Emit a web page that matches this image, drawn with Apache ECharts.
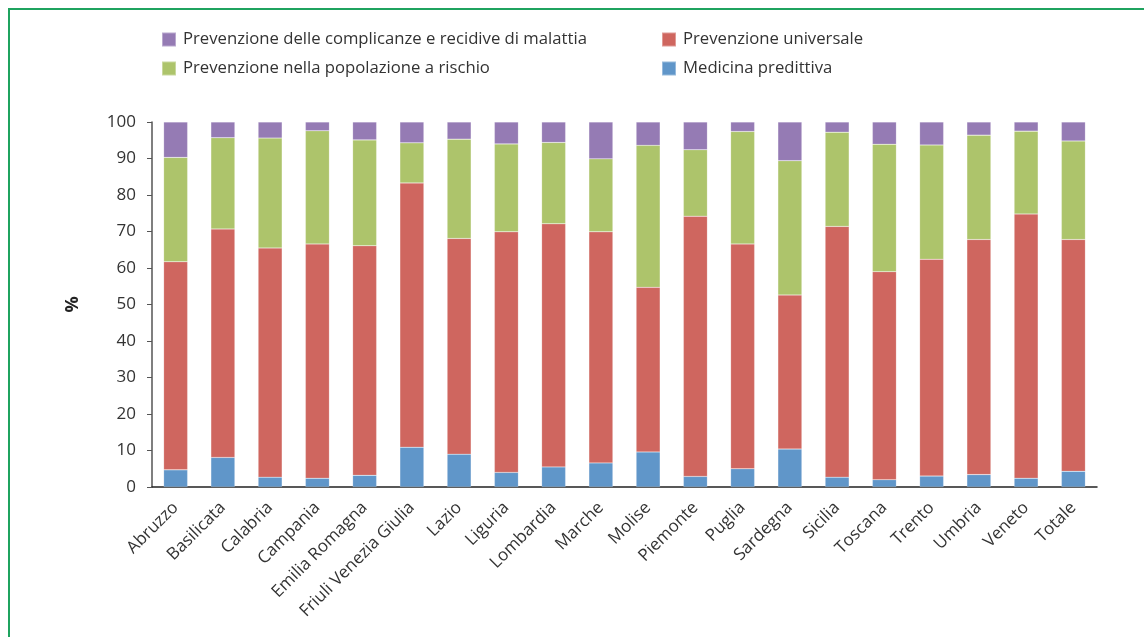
<!DOCTYPE html>
<html>
<head>
<meta charset="utf-8">
<script src="https://cdn.jsdelivr.net/npm/echarts@6/dist/echarts.min.js"></script>
<style>html,body{margin:0;padding:0;background:#fff}#c{width:1144px;height:637px}</style>
</head>
<body>
<div id="c"></div>
<script>
const categories = ['Abruzzo','Basilicata','Calabria','Campania','Emilia Romagna','Friuli Venezia Giulia','Lazio','Liguria','Lombardia','Marche','Molise','Piemonte','Puglia','Sardegna','Sicilia','Toscana','Trento','Umbria','Veneto','Totale'];
const medicinaPredittiva = [4.7,8.1,2.7,2.4,3.2,10.9,9.0,4.0,5.5,6.6,9.6,2.9,5.0,10.4,2.7,2.0,3.0,3.4,2.4,4.3];
const prevenzioneUniversale = [57.0,62.6,62.8,64.2,62.9,72.4,59.1,65.9,66.6,63.3,45.1,71.3,61.6,42.2,68.7,57.0,59.4,64.4,72.4,63.5];
const prevenzioneRischio = [28.6,25.0,30.1,31.0,29.0,11.0,27.2,24.1,22.3,20.0,38.9,18.2,30.8,36.8,25.8,34.9,31.3,28.6,22.7,27.0];
const prevenzioneComplicanze = [9.7,4.3,4.4,2.4,4.9,5.7,4.7,6.0,5.6,10.1,6.4,7.6,2.6,10.6,2.8,6.1,6.3,3.6,2.5,5.2];
const yTicks = [0,10,20,30,40,50,60,70,80,90,100];

const names = {
  comp: 'Prevenzione delle complicanze e recidive di malattia',
  univ: 'Prevenzione universale',
  risc: 'Prevenzione nella popolazione a rischio',
  med: 'Medicina predittiva'
};
const colors = {comp:'#957bb4', univ:'#cf665f', risc:'#adc46b', med:'#6096c9'};
const font = '"Open Sans", "Noto Sans", sans-serif';

const chart = echarts.init(document.getElementById('c'));
function bar(key, data) {
  return {
    name: names[key], type: 'bar', stack: 'tot', data: data, barWidth: 24,
    itemStyle: {color: colors[key], borderColor: 'rgba(255,255,255,0.35)', borderWidth: 0.5}
  };
}
const legendText = {fontFamily: font, fontSize: 16.7, color: '#333', padding: [0, 0, 0, 2]};
chart.setOption({
  animation: false,
  backgroundColor: '#fff',
  textStyle: {fontFamily: font},
  graphic: [{
    type: 'polyline',
    shape: {points: [[9, 637], [9, 9], [1144, 9]]},
    style: {stroke: '#1fa35f', lineWidth: 2, fill: null}
  }],
  legend: [{
    left: 156, top: 26, orient: 'vertical', itemGap: 12,
    itemWidth: 14, itemHeight: 14, icon: 'rect',
    data: [names.comp, names.risc], textStyle: legendText
  }, {
    left: 656, top: 26, orient: 'vertical', itemGap: 12,
    itemWidth: 14, itemHeight: 14, icon: 'rect',
    data: [names.univ, names.med], textStyle: legendText
  }],
  grid: {left: 152, right: 47, top: 122, bottom: 150},
  xAxis: {
    type: 'category', data: categories,
    axisLine: {lineStyle: {color: '#222', width: 1.5}},
    axisTick: {show: false},
    axisLabel: {rotate: 45, fontSize: 17, color: '#333', fontFamily: font, margin: 18, interval: 0}
  },
  yAxis: {
    type: 'value', min: 0, max: 100, interval: 10,
    name: '%', nameLocation: 'middle', nameRotate: 90, nameGap: 70,
    nameTextStyle: {fontSize: 18, fontWeight: 'bold', color: '#222', fontFamily: font},
    axisLine: {show: true, lineStyle: {color: '#555', width: 1.5}},
    axisTick: {show: true, length: 5, lineStyle: {color: '#555'}},
    splitLine: {show: false},
    axisLabel: {fontSize: 17, color: '#333', fontFamily: font, margin: 16,
      formatter: v => yTicks.includes(v) ? String(v) : ''}
  },
  series: [
    bar('med', medicinaPredittiva),
    bar('univ', prevenzioneUniversale),
    bar('risc', prevenzioneRischio),
    bar('comp', prevenzioneComplicanze)
  ]
});
</script>
</body>
</html>
